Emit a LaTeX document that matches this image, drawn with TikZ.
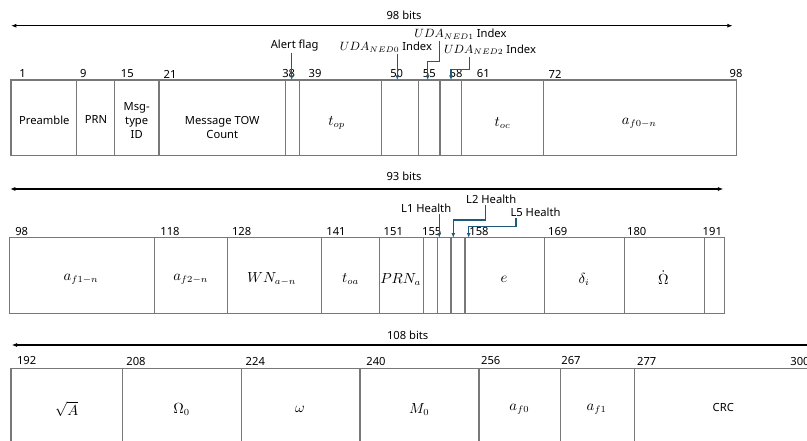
\documentclass[tikz,border=0pt]{standalone}
\usepackage{fontspec}
\setmainfont{Noto Sans}
\usetikzlibrary{arrows.meta}

\definecolor{calloutblue}{RGB}{31,90,122}
\definecolor{fieldgray}{RGB}{120,120,120}

\begin{document}
\begin{tikzpicture}[x=0.75pt,y=-0.75pt,
    font=\fontsize{8.4}{10.5}\selectfont,
    field/.style={draw=fieldgray,line width=0.8pt},
    span/.style={{Latex[length=4pt,width=3pt]}-{Latex[length=4pt,width=3pt]},line width=0.9pt},
    callout/.style={draw=calloutblue,line width=1pt,-{Latex[length=3.5pt,width=3pt]}},
    bitno/.style={inner sep=0pt},
    lbl/.style={inner sep=1pt,align=center},
    mlbl/.style={inner sep=1pt,font=\fontsize{10.5}{12}\selectfont}]
  \useasboundingbox (0,0) rectangle (807,441);
  \clip (0,0) rectangle (807,441);

  % first word, bits 1-98
  \coordinate (w1l) at (11,25.7);
  \coordinate (w1r) at (732.7,25.7);
  \draw[span] (w1l) -- (w1r);
  \node[lbl] (w1bits) at (404,15) {98 bits};
  \draw[field] (11,80) rectangle (736.7,155.7);
  \foreach \x in {76.7,114.7,159,285.7,299.3,381.3,418.3,440,461.7,543.3}
    \draw[field] (\x,80) -- (\x,155.7);
  \foreach \x/\n in {22.7/1,83.3/9,127.3/15,170/21,288.7/38,315/39,396.7/50,429.3/55,456/58,483.3/61,555/72,736/98}
    \node[bitno] (ba\n) at (\x,74) {\n};
  \node[lbl] (preamble) at (44.3,120) {Preamble};
  \node[lbl] (prn) at (96,120) {PRN};
  \node[lbl] (msgtype) at (136.7,121) {Msg-\\type\\ID};
  \node[lbl] (tow) at (222.3,127.5) {Message TOW\\Count};
  \node[mlbl] (top) at (336.7,123) {$t_{op}$};
  \node[mlbl] (toc) at (502.7,123) {$t_{oc}$};
  \node[mlbl] (af0n) at (639.3,123) {$a_{f0-n}$};

  % callouts of the first word
  \node[lbl] (alert) at (294.7,46) {Alert flag};
  \node[lbl] (ned0) at (386,47.3) {{\fontsize{9}{11}\selectfont$UDA_{NED0}$} Index};
  \node[lbl] (ned1) at (460.5,34.3) {{\fontsize{9}{11}\selectfont$UDA_{NED1}$} Index};
  \node[lbl] (ned2) at (490,50) {{\fontsize{9}{11}\selectfont$UDA_{NED2}$} Index};
  \coordinate (tipalert) at (291.7,80);
  \coordinate (tipned0) at (397.3,80);
  \coordinate (tipned1) at (427.7,80);
  \coordinate (tipned2) at (451,80);
  \coordinate (kneened1) at (439.3,61.7);
  \coordinate (kneened2) at (469.3,69.3);
  \draw[callout] (alert.south -| tipalert) -- (tipalert);
  \draw[callout] (ned0.south -| tipned0) -- (tipned0);
  \draw[callout] (ned1.south -| kneened1) -- (kneened1) -| (tipned1);
  \draw[callout] (ned2.south -| kneened2) -- (kneened2) -| (tipned2);

  % second word, bits 98-191
  \coordinate (w2l) at (10,189);
  \coordinate (w2r) at (723.3,189);
  \draw[span] (w2l) -- (w2r);
  \node[lbl] (w2bits) at (404,176.7) {93 bits};
  \draw[field] (9.3,237.7) rectangle (724.3,313.3);
  \foreach \x in {154.7,227.3,321.3,379.3,423.3,437.3,451,465,544.7,624.3,704.3}
    \draw[field] (\x,237.7) -- (\x,313.3);
  \foreach \x/\n in {21.7/98,170/118,241.7/128,336/141,393.3/151,431.7/155,479/158,557.7/169,636.7/180,712.3/191}
    \node[bitno] (bb\n) at (\x,231.7) {\n};
  \node[mlbl] (af1n) at (81,279.3) {$a_{f1-n}$};
  \node[mlbl] (af2n) at (190.7,279.3) {$a_{f2-n}$};
  \node[mlbl] (wna) at (271.7,279.3) {$WN_{a-n}$};
  \node[mlbl] (toa) at (350.7,279.3) {$t_{oa}$};
  \node[mlbl] (prna) at (400.7,279.3) {$PRN_a$};
  \node[mlbl] (ecc) at (504,279.3) {$e$};
  \node[mlbl] (deltai) at (584,279.3) {$\delta_i$};
  \node[mlbl] (omegadot) at (663.3,277.5) {$\dot{\Omega}$};

  % callouts of the second word
  \node[lbl] (lone) at (426.2,208.3) {L1 Health};
  \node[lbl] (ltwo) at (491.2,199) {L2 Health};
  \node[lbl] (lfive) at (535.5,212.3) {L5 Health};
  \coordinate (tiplone) at (439.3,237.7);
  \coordinate (tipltwo) at (453.3,237.7);
  \coordinate (tiplfive) at (468.7,237.7);
  \coordinate (kneeltwo) at (485.3,220);
  \coordinate (kneelfive) at (516,226.7);
  \draw[callout] (lone.south -| tiplone) -- (tiplone);
  \draw[callout] (ltwo.south -| kneeltwo) -- (kneeltwo) -| (tipltwo);
  \draw[callout] (lfive.south -| kneelfive) -- (kneelfive) -| (tiplfive);

  % third word, bits 192-300
  \coordinate (w3l) at (11.7,345);
  \coordinate (w3r) at (830,345);
  \draw[span] (w3l) -- (w3r);
  \node[lbl] (w3bits) at (407.7,335) {108 bits};
  \draw[field] (11,368.3) rectangle (812,460);
  \foreach \x in {122.3,241.3,360,479,560.7,634.7}
    \draw[field] (\x,368.3) -- (\x,460);
  \foreach \x/\n in {26.7/192,136/208,255.3/224,376/240,490.7/256,571/267,646.7/277,800/300}
    \node[bitno] (bc\n) at (\x,361) {\n};
  \node[mlbl] (sqrta) at (66.7,409.3) {$\sqrt{A}$};
  \node[mlbl] (omegazero) at (181.7,409.3) {$\Omega_0$};
  \node[mlbl] (argper) at (300,409.3) {$\omega$};
  \node[mlbl] (mzero) at (419.3,409.3) {$M_0$};
  \node[mlbl] (afzero) at (519.3,409.3) {$a_{f0}$};
  \node[mlbl] (afone) at (596.7,409.3) {$a_{f1}$};
  \node[lbl] (crc) at (723.3,407.3) {CRC};
\end{tikzpicture}
\end{document}
